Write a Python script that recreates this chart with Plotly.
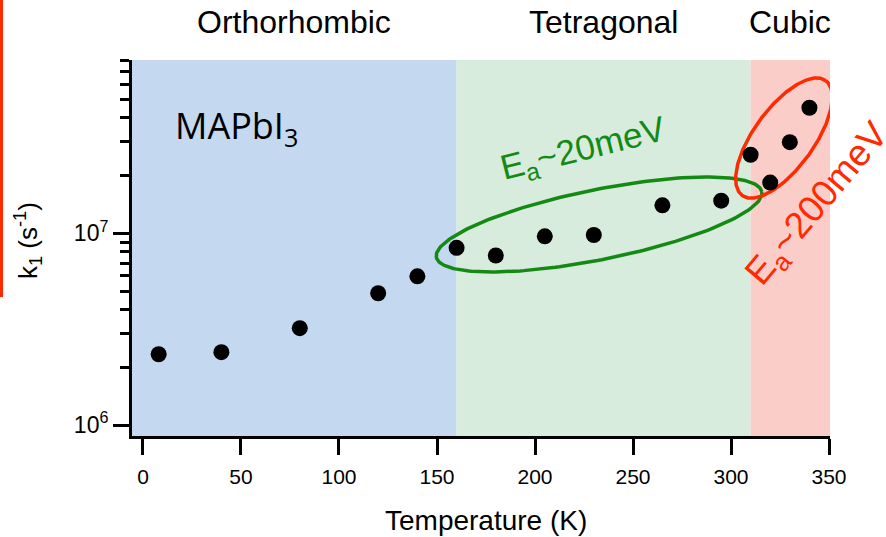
import numpy as np
import plotly.graph_objects as go

# ---------------- data ----------------
temperature_K = [8, 40, 80, 120, 140, 160, 180, 205, 230, 265, 295, 310, 320, 330, 340]
k1_per_s = [2.34e6, 2.40e6, 3.2e6, 4.87e6, 5.97e6, 8.4e6, 7.66e6, 9.65e6, 9.8e6,
            1.40e7, 1.48e7, 2.57e7, 1.84e7, 2.99e7, 4.52e7]

phase_names = ["Orthorhombic", "Tetragonal", "Cubic"]
phase_bounds = [-5.6, 160, 310, 350.5]
phase_colors = ["rgb(196,217,240)", "rgb(216,236,221)", "rgb(251,205,200)"]

x_ticks = [0, 50, 100, 150, 200, 250, 300, 350]
y_major = [1e6, 1e7]
y_major_text = ["10<sup>6</sup>", "10<sup>7</sup>"]
y_minor = [2e6, 3e6, 4e6, 5e6, 6e6, 7e6, 8e6, 9e6,
           2e7, 3e7, 4e7, 5e7, 6e7, 7e7, 8e7]

# ---------------- layout geometry ----------------
W, H = 886, 537
ML, MR, MT, MB = 132, 56, 60, 101
PW, PH = W - ML - MR, H - MT - MB
x_range = [phase_bounds[0], phase_bounds[-1]]
y_range_log = [5.943, 7.904]
px_per_K = PW / (x_range[1] - x_range[0])
px_per_dec = PH / (y_range_log[1] - y_range_log[0])

GREEN = "rgb(20,138,20)"
RED = "rgb(255,42,0)"
FONT = "Liberation Sans, Arial, sans-serif"


def px2paper(xp, yp):
    return (xp - ML) / PW, (H - MB - yp) / PH


def ellipse(tc, logc, a_px, b_px, ang_deg):
    t = np.linspace(0, 2 * np.pi, 241)
    th = np.deg2rad(ang_deg)
    dx = a_px * np.cos(t) * np.cos(th) - b_px * np.sin(t) * np.sin(th)
    dy = a_px * np.cos(t) * np.sin(th) + b_px * np.sin(t) * np.cos(th)
    return tc + dx / px_per_K, 10 ** (logc + dy / px_per_dec)


fig = go.Figure()

# ellipses
gx, gy = ellipse(232.7, 7.046, 166, 35, 11.4)
fig.add_trace(go.Scatter(x=gx, y=gy, mode="lines", line=dict(color=GREEN, width=3.5),
                         hoverinfo="skip", showlegend=False))
rx, ry = ellipse(327.0, 7.497, 71, 30, 54)
fig.add_trace(go.Scatter(x=rx, y=ry, mode="lines", line=dict(color=RED, width=3.5),
                         hoverinfo="skip", showlegend=False))

# data points
fig.add_trace(go.Scatter(x=temperature_K, y=k1_per_s, mode="markers",
                         marker=dict(color="black", size=16), showlegend=False,
                         cliponaxis=False))

shapes = []
for i in range(3):
    shapes.append(dict(type="rect", xref="x", yref="paper",
                       x0=phase_bounds[i], x1=phase_bounds[i + 1], y0=0, y1=1,
                       fillcolor=phase_colors[i], line=dict(width=0), layer="below"))
# red edge line at left (cropped artefact)
lx0, ly0 = px2paper(1.5, 297)
lx1, ly1 = px2paper(1.5, 0)
shapes.append(dict(type="line", xref="paper", yref="paper", x0=lx0, x1=lx1, y0=ly0, y1=ly1,
                   line=dict(color=RED, width=3)))

annotations = []


def add_text(xp, yp, text, size, color="black", family=FONT, angle=0):
    ax_, ay_ = px2paper(xp, yp)
    annotations.append(dict(x=ax_, y=ay_, xref="paper", yref="paper", text=text,
                            xanchor="center", yanchor="middle", textangle=angle,
                            showarrow=False, font=dict(family=family, size=size, color=color)))


_, py_phase = px2paper(0, 22)
for i, name in enumerate(phase_names):
    annotations.append(dict(x=(phase_bounds[i] + phase_bounds[i + 1]) / 2, y=py_phase,
                            xref="x", yref="paper", text=name, showarrow=False,
                            xanchor="center", yanchor="middle",
                            font=dict(family=FONT, size=32, color="black")))

add_text(486, 520, "Temperature (K)", 28)
add_text(28, 241, "k<sub>1</sub> (s<sup>-1</sup>)", 26, angle=-90)
add_text(236, 127, "MAPbI<sub>3</sub>", 36, family="Open Sans, sans-serif")
add_text(583, 150, "E<sub>a</sub>~20meV", 35, color=GREEN, angle=-14)
add_text(818, 205, "E<sub>a</sub>~200meV", 37, color=RED, angle=-50)

fig.update_layout(
    width=W, height=H,
    margin=dict(l=ML, r=MR, t=MT, b=MB, pad=0),
    paper_bgcolor="white", plot_bgcolor="white",
    shapes=shapes, annotations=annotations,
    showlegend=False,
    xaxis=dict(range=x_range, tickvals=x_ticks, ticks="outside", ticklen=16, tickwidth=3,
               tickcolor="black", showline=True, linewidth=3, linecolor="black",
               showgrid=False, zeroline=False, ticklabelstandoff=4,
               tickfont=dict(family=FONT, size=21, color="black")),
    yaxis=dict(type="log", range=y_range_log, tickvals=y_major, ticktext=y_major_text,
               ticks="outside", ticklen=16, tickwidth=3, tickcolor="black",
               showline=True, linewidth=3, linecolor="black", showgrid=False,
               zeroline=False,
               minor=dict(tickvals=y_minor, ticks="outside", ticklen=9, tickwidth=3,
                          tickcolor="black", showgrid=False),
               tickfont=dict(family=FONT, size=23, color="black")),
)

fig.write_html("out.html")
